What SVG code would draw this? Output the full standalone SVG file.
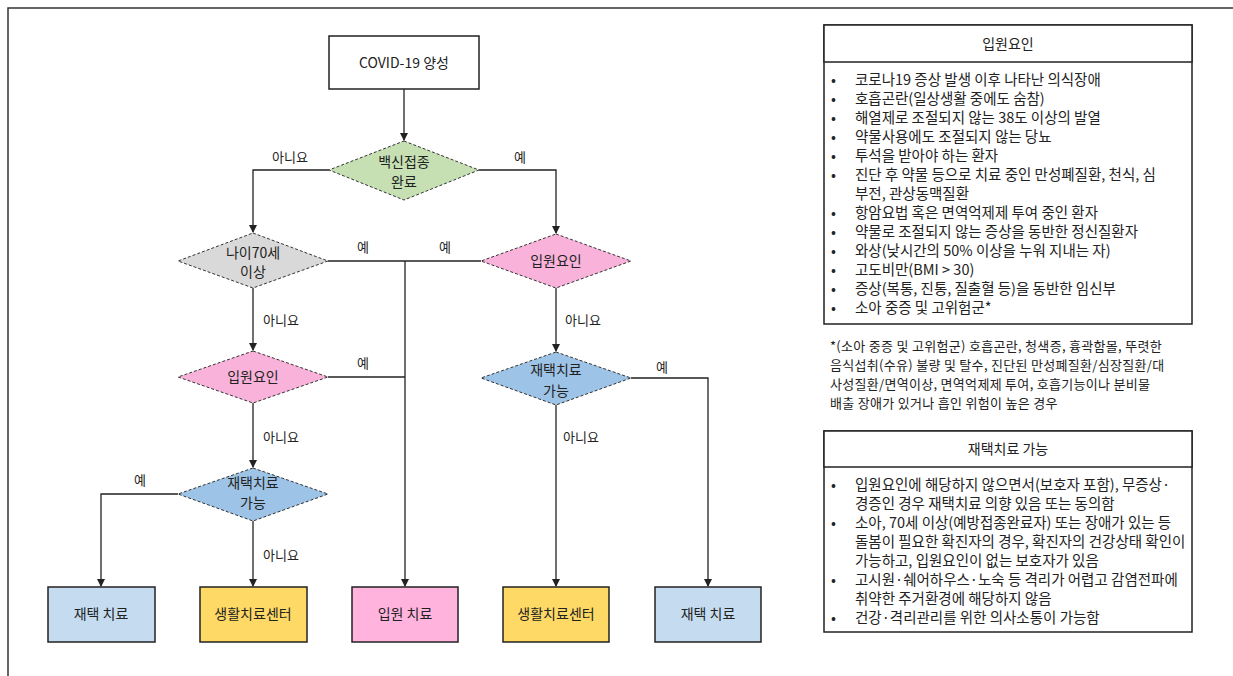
<svg xmlns="http://www.w3.org/2000/svg" width="1233" height="676" viewBox="0 0 1233 676">
<style>
text{font-family:"Noto Sans CJK KR","Noto Sans",sans-serif;fill:#222;}
.n{font-size:14px;text-anchor:middle;}
.lbl{font-size:13px;text-anchor:middle;}
.li{font-size:14.5px;}
.fn{font-size:13px;letter-spacing:0.3px;}
.box{stroke:#222;stroke-width:1.5;}
.dia{stroke:#333;stroke-width:1;stroke-dasharray:3 2;}
.con{fill:none;stroke:#222;stroke-width:1.3;}
.panel{fill:#fff;stroke:#222;stroke-width:1.5;}
</style>
<defs>
<marker id="ah" markerWidth="8" markerHeight="8" refX="7" refY="4" orient="auto" markerUnits="userSpaceOnUse">
<path d="M0,0 L8,4 L0,8 z" fill="#222"/>
</marker>
</defs>
<rect width="1233" height="676" fill="#fff"/>
<polyline points="8,676 8,8 1233,8" fill="none" stroke="#333" stroke-width="1.5"/>

<g id="connectors">
<path class="con" d="M404,89 V140" marker-end="url(#ah)"/>
<path class="con" d="M329,170 H253 V232" marker-end="url(#ah)"/>
<path class="con" d="M479,170 H556 V233" marker-end="url(#ah)"/>
<path class="con" d="M253,288 V350" marker-end="url(#ah)"/>
<path class="con" d="M328,261 H481"/>
<path class="con" d="M405,261 V586" marker-end="url(#ah)"/>
<path class="con" d="M328,377 H405"/>
<path class="con" d="M253,403 V467" marker-end="url(#ah)"/>
<path class="con" d="M178,494 H101 V586" marker-end="url(#ah)"/>
<path class="con" d="M253,521 V586" marker-end="url(#ah)"/>
<path class="con" d="M556,288 V351" marker-end="url(#ah)"/>
<path class="con" d="M631,378 H708 V586" marker-end="url(#ah)"/>
<path class="con" d="M556,405 V586" marker-end="url(#ah)"/>
<text class="lbl" x="290" y="162">아니요</text>
<text class="lbl" x="520" y="162">예</text>
<text class="lbl" x="363" y="252">예</text>
<text class="lbl" x="445" y="252">예</text>
<text class="lbl" x="281" y="325">아니요</text>
<text class="lbl" x="583" y="325">아니요</text>
<text class="lbl" x="363" y="368">예</text>
<text class="lbl" x="662" y="372">예</text>
<text class="lbl" x="281" y="442">아니요</text>
<text class="lbl" x="581" y="442">아니요</text>
<text class="lbl" x="140" y="485">예</text>
<text class="lbl" x="281" y="560">아니요</text>
</g>

<g id="start">
<rect class="box" x="329" y="36" width="150" height="53" fill="#fff"/>
<text class="n" x="404" y="68">COVID-19 양성</text>
</g>
<g id="vaccine">
<polygon class="dia" points="404,141 479,170 404,200 329,170" fill="#c6e0b4"/>
<text class="n" x="404" y="167">백신접종</text>
<text class="n" x="404" y="187">완료</text>
</g>
<g id="age70">
<polygon class="dia" points="253,233 328,261 253,288 178,261" fill="#d9d9d9"/>
<text class="n" x="253" y="258">나이70세</text>
<text class="n" x="253" y="277">이상</text>
</g>
<g id="admit-left">
<polygon class="dia" points="253,351 328,377 253,403 178,377" fill="#f9b3da"/>
<text class="n" x="253" y="382">입원요인</text>
</g>
<g id="home-left">
<polygon class="dia" points="253,468 328,494 253,521 178,494" fill="#9dc3e6"/>
<text class="n" x="253" y="488">재택치료</text>
<text class="n" x="253" y="508">가능</text>
</g>
<g id="admit-right">
<polygon class="dia" points="556,234 631,261 556,288 481,261" fill="#f9b3da"/>
<text class="n" x="556" y="266">입원요인</text>
</g>
<g id="home-right">
<polygon class="dia" points="556,352 631,378 556,405 481,378" fill="#9dc3e6"/>
<text class="n" x="556" y="375">재택치료</text>
<text class="n" x="556" y="396">가능</text>
</g>

<g id="out1">
<rect class="box" x="48" y="587" width="107" height="55" fill="#c5dcf0"/>
<text class="n" x="101" y="619">재택 치료</text>
</g>
<g id="out2">
<rect class="box" x="200" y="587" width="107" height="55" fill="#ffd966"/>
<text class="n" x="253" y="619">생활치료센터</text>
</g>
<g id="out3">
<rect class="box" x="352" y="587" width="106" height="55" fill="#ffb3dd"/>
<text class="n" x="405" y="619">입원 치료</text>
</g>
<g id="out4">
<rect class="box" x="503" y="587" width="106" height="55" fill="#ffd966"/>
<text class="n" x="556" y="619">생활치료센터</text>
</g>
<g id="out5">
<rect class="box" x="655" y="587" width="106" height="55" fill="#c5dcf0"/>
<text class="n" x="708" y="619">재택 치료</text>
</g>

<g id="panel-admission">
<rect class="panel" x="824" y="25" width="368" height="299"/>
<rect class="panel" x="824" y="25" width="368" height="37" fill="#ffb3dd"/>
<text class="n" x="1008" y="49">입원요인</text>
<g class="li">
<text x="831" y="85">•</text><text x="855" y="85">코로나19 증상 발생 이후 나타난 의식장애</text>
<text x="831" y="104">•</text><text x="855" y="104">호흡곤란(일상생활 중에도 숨참)</text>
<text x="831" y="123">•</text><text x="855" y="123">해열제로 조절되지 않는 38도 이상의 발열</text>
<text x="831" y="142">•</text><text x="855" y="142">약물사용에도 조절되지 않는 당뇨</text>
<text x="831" y="161">•</text><text x="855" y="161">투석을 받아야 하는 환자</text>
<text x="831" y="180">•</text><text x="855" y="180">진단 후 약물 등으로 치료 중인 만성폐질환, 천식, 심</text>
<text x="855" y="199">부전, 관상동맥질환</text>
<text x="831" y="218">•</text><text x="855" y="218">항암요법 혹은 면역억제제 투여 중인 환자</text>
<text x="831" y="237">•</text><text x="855" y="237">약물로 조절되지 않는 증상을 동반한 정신질환자</text>
<text x="831" y="256">•</text><text x="855" y="256">와상(낮시간의 50% 이상을 누워 지내는 자)</text>
<text x="831" y="275">•</text><text x="855" y="275">고도비만(BMI &gt; 30)</text>
<text x="831" y="294">•</text><text x="855" y="294">증상(복통, 진통, 질출혈 등)을 동반한 임신부</text>
<text x="831" y="313">•</text><text x="855" y="313">소아 중증 및 고위험군*</text>
</g>
</g>

<g id="footnote" class="fn">
<text x="830" y="351">*(소아 중증 및 고위험군) 호흡곤란, 청색증, 흉곽함몰, 뚜렷한</text>
<text x="830" y="370">음식섭취(수유) 불량 및 탈수, 진단된 만성폐질환/심장질환/대</text>
<text x="830" y="389">사성질환/면역이상, 면역억제제 투여, 호흡기능이나 분비물</text>
<text x="830" y="408">배출 장애가 있거나 흡인 위험이 높은 경우</text>
</g>

<g id="panel-home">
<rect class="panel" x="824" y="431" width="368" height="201"/>
<rect class="panel" x="824" y="431" width="368" height="36" fill="#bdd7ee"/>
<text class="n" x="1008" y="454">재택치료 가능</text>
<g class="li">
<text x="831" y="490">•</text><text x="855" y="490">입원요인에 해당하지 않으면서(보호자 포함), 무증상·</text>
<text x="855" y="509">경증인 경우 재택치료 의향 있음 또는 동의함</text>
<text x="831" y="528">•</text><text x="855" y="528">소아, 70세 이상(예방접종완료자) 또는 장애가 있는 등</text>
<text x="855" y="547">돌봄이 필요한 확진자의 경우, 확진자의 건강상태 확인이</text>
<text x="855" y="566">가능하고, 입원요인이 없는 보호자가 있음</text>
<text x="831" y="585">•</text><text x="855" y="585">고시원·쉐어하우스·노숙 등 격리가 어렵고 감염전파에</text>
<text x="855" y="604">취약한 주거환경에 해당하지 않음</text>
<text x="831" y="623">•</text><text x="855" y="623">건강·격리관리를 위한 의사소통이 가능함</text>
</g>
</g>
</svg>
